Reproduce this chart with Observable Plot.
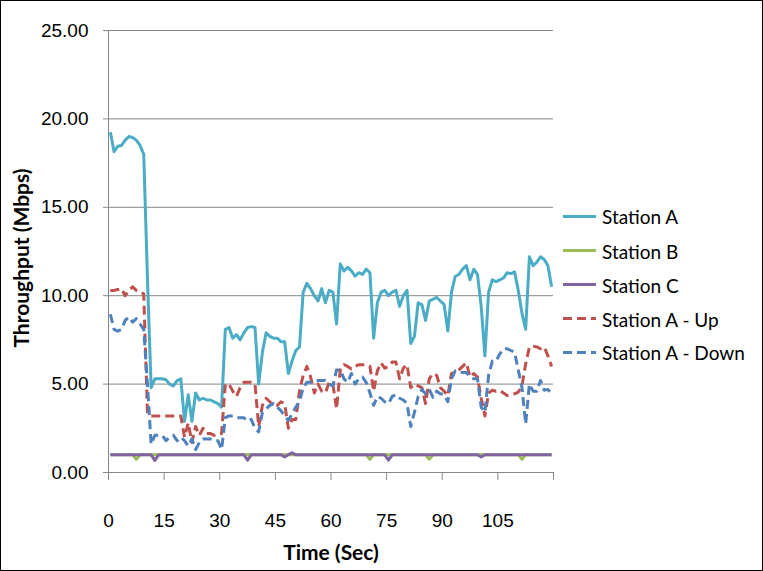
<!DOCTYPE html>
<html><head><meta charset="utf-8">
<script src="https://cdn.jsdelivr.net/npm/d3@7"></script>
<script src="https://cdn.jsdelivr.net/npm/@observablehq/plot@0.6"></script>
<style>
body{margin:0;background:#fff;}
#wrap{position:relative;width:763px;height:571px;overflow:hidden;background:#fff;}
#border{position:absolute;left:0;top:0;width:763px;height:571px;box-sizing:border-box;border:1px solid #000;pointer-events:none;}
.title{position:absolute;font-family:Lato,"Open Sans",sans-serif;font-weight:bold;font-size:21px;color:#000;white-space:nowrap;}
#xtitle{left:331px;top:551px;transform:translate(-50%,-50%);}
#ytitle{left:20px;top:258px;transform:translate(-50%,-50%) rotate(-90deg);}
.item{position:absolute;left:563px;display:flex;align-items:center;font-family:Lato,"Open Sans",sans-serif;font-size:19px;color:#000;white-space:nowrap;transform:translateY(-50%);}
.item svg{margin-right:6px;}
</style></head>
<body><div id="wrap"></div>
<script>
// ---- data ----
const seriesNames = ["Station A","Station B","Station C","Station A - Up","Station A - Down"];
const stationA = [
 19.25,18.15,18.45,18.5,18.8,19.0,18.95,18.8,18.5,18.0,
 11.0,4.8,5.3,5.3,5.3,5.25,5.0,4.9,5.2,5.3,
 2.9,4.4,2.9,4.5,4.1,4.2,4.1,4.1,4.0,3.9,
 3.7,8.1,8.2,7.6,7.8,7.5,7.9,8.2,8.25,8.2,
 5.0,6.8,7.9,7.7,7.6,7.6,7.4,7.4,5.6,6.3,
 6.9,7.1,10.2,10.7,10.4,10.0,9.7,10.4,9.6,10.3,
 10.2,8.4,11.8,11.4,11.6,11.4,11.1,11.3,11.2,11.5,
 11.3,7.6,9.6,10.2,10.3,10.0,10.2,10.3,9.4,10.0,
 10.3,7.3,7.7,9.6,9.5,8.6,9.7,9.8,9.9,9.7,
 9.5,8.0,10.2,11.1,11.2,11.5,11.7,10.9,11.5,11.2,
 9.4,6.6,10.2,10.9,10.8,10.9,11.0,11.3,11.25,11.35,
 10.3,9.0,8.1,12.2,11.7,11.9,12.2,12.05,11.7,10.5];
const stationB = [
 1,1,1,1,1,1,1,0.75,1,1, 1,1,1,1,1,1,1,1,1,1,
 1,1,1,1,1,1,1,1,1,1, 1,1,1,1,1,1,1,1,1,1,
 1,1,1,1,1,1,1,1,1,1, 1,1,1,1,1,1,1,1,1,1,
 1,1,1,1,1,1,1,1,1,1, 0.75,1,1,1,1,1,1,1,1,1,
 1,1,1,1,1,1,0.75,1,1,1, 1,1,1,1,1,1,1,1,1,1,
 1,1,1,1,1,1,1,1,1,1, 1,0.75,1,1,1,1,1,1,1,1];
const stationC = [
 1,1,1,1,1,1,1,1,1,1, 1,1,0.68,1,1,1,1,1,1,1,
 1,1,1,1,1,1,1,1,1,1, 1,1,1,1,1,1,1,0.7,1,1,
 1,1,1,1,1,1,1,0.88,1,1.12, 1,1,1,1,1,1,1,1,1,1,
 1,1,1,1,1,1,1,1,1,1, 1,1,1,1,1,0.7,1,1,1,1,
 1,1,1,1,1,1,1,1,1,1, 1,1,1,1,1,1,1,1,1,1,
 0.88,1,1,1,1,1,1,1,1,1, 1,1,1,1,1,1,1,1,1,1];
const stationAUp = [
 10.3,10.3,10.35,10.4,10.0,10.3,10.5,10.3,10.2,10.1,
 3.4,3.2,3.2,3.2,3.2,3.2,3.2,3.2,3.2,3.2,
 2.0,2.8,1.7,2.6,2.1,2.5,2.2,2.2,2.1,2.2,
 2.2,5.0,5.0,4.6,4.3,4.8,5.1,5.1,5.1,5.0,
 2.6,3.8,4.2,4.0,3.8,3.8,4.0,3.9,2.5,3.0,
 3.0,4.6,5.5,6.0,5.4,4.5,5.0,4.6,4.5,5.1,
 5.0,3.6,5.8,6.1,6.0,5.85,6.0,6.1,6.1,6.1,
 6.0,4.6,5.75,6.2,5.9,6.0,6.25,6.25,5.3,5.9,
 6.1,4.8,5.0,4.9,4.8,3.9,5.3,5.6,5.5,4.8,
 4.6,4.35,5.6,5.65,5.8,6.0,6.2,5.4,5.6,5.4,
 4.2,3.2,4.5,4.65,4.6,4.65,4.5,4.35,4.4,4.45,
 4.55,4.9,6.15,7.1,7.15,7.1,7.0,7.1,6.6,6.0];
const stationADown = [
 8.95,8.1,8.0,8.1,8.6,8.8,8.5,8.7,8.4,8.1,
 5.0,1.6,2.1,2.1,2.1,1.8,2.0,2.1,1.8,2.0,
 1.8,1.5,1.9,1.3,1.7,1.9,1.9,1.9,1.8,1.8,
 1.3,3.1,3.2,3.2,3.1,3.1,3.1,2.9,3.0,2.5,
 2.3,3.4,3.6,3.8,3.9,3.7,3.5,3.2,2.95,3.3,
 3.7,4.0,4.8,5.1,5.1,5.1,5.2,5.2,5.2,5.0,
 4.9,5.8,5.8,5.3,5.1,5.6,5.0,5.3,5.4,5.1,
 4.5,3.8,4.3,4.2,4.0,3.9,4.3,4.4,4.2,4.1,
 3.9,2.6,3.4,4.3,4.7,4.45,4.7,4.25,4.6,4.45,
 4.4,4.0,5.3,5.75,5.7,5.65,5.65,5.4,5.3,5.3,
 3.7,3.4,5.5,6.3,6.3,6.7,7.0,7.0,6.9,6.8,
 5.8,4.8,2.75,5.0,4.6,4.6,5.2,4.65,4.7,4.45];
const xTicks = [0,15,30,45,60,75,90,105,120];
const xTickLabels = ["0","15","30","45","60","75","90","105",""];
const yTicks = [0,5,10,15,20,25];

// ---- styling ----
const seriesValues = [stationA, stationB, stationC, stationAUp, stationADown];
const seriesColors = ["#4BACC6","#9BBB59","#8064A2","#C0504D","#4F81BD"];
const seriesDash = [null,null,null,"9,5","9,5"];
const grid = "#868686";

const lineMarks = seriesValues.map((vals, k) =>
  Plot.line(vals, {
    x: (d, i) => i + 0.5,   // each second is centred in its category slot
    y: d => d,
    stroke: seriesColors[k],
    strokeWidth: 3,
    strokeDasharray: seriesDash[k] || undefined,
    strokeLinejoin: "round",
    strokeLinecap: "butt"
  }));

const chart = Plot.plot({
  width: 763, height: 571,
  marginLeft: 108, marginRight: 210, marginTop: 30, marginBottom: 99,
  style: {fontFamily: "'Liberation Sans', Arial, sans-serif", fontSize: "19px", background: "transparent", color: "#000"},
  x: {domain: [0, 120]},
  y: {domain: [0, 25]},
  marks: [
    Plot.ruleY(yTicks.slice(1), {stroke: grid, strokeWidth: 1}),
    Plot.ruleY([0], {stroke: grid, strokeWidth: 1}),
    Plot.ruleX([0], {stroke: grid, strokeWidth: 1}),
    Plot.axisY({ticks: yTicks, tickFormat: d3.format(".2f"), tickSize: 5, tickPadding: 15,
      stroke: grid, fill: "#000", fontSize: 19, label: null}),
    Plot.axisX({ticks: xTicks, tickFormat: (d, i) => xTickLabels[xTicks.indexOf(d)], tickSize: 8, tickPadding: 33,
      stroke: grid, fill: "#000", fontSize: 19, label: null}),
    ...lineMarks
  ]
});

const wrap = document.getElementById("wrap");
wrap.appendChild(chart);

const xt = document.createElement("div"); xt.className = "title"; xt.id = "xtitle"; xt.textContent = "Time (Sec)"; wrap.appendChild(xt);
const yt = document.createElement("div"); yt.className = "title"; yt.id = "ytitle"; yt.textContent = "Throughput (Mbps)"; wrap.appendChild(yt);

const rowY = [216, 250.5, 284.5, 318.5, 352];
seriesNames.forEach((name, k) => {
  const it = document.createElement("div");
  it.className = "item";
  it.style.top = rowY[k] + "px";
  const dash = seriesDash[k] ? `stroke-dasharray="${seriesDash[k]}"` : "";
  it.innerHTML = `<svg width="33" height="6"><line x1="0" y1="3" x2="33" y2="3" stroke="${seriesColors[k]}" stroke-width="3" ${dash}/></svg>`;
  const s = document.createElement("span"); s.textContent = name; it.appendChild(s);
  wrap.appendChild(it);
});
const b = document.createElement("div"); b.id = "border"; wrap.appendChild(b);
</script>
</body></html>
